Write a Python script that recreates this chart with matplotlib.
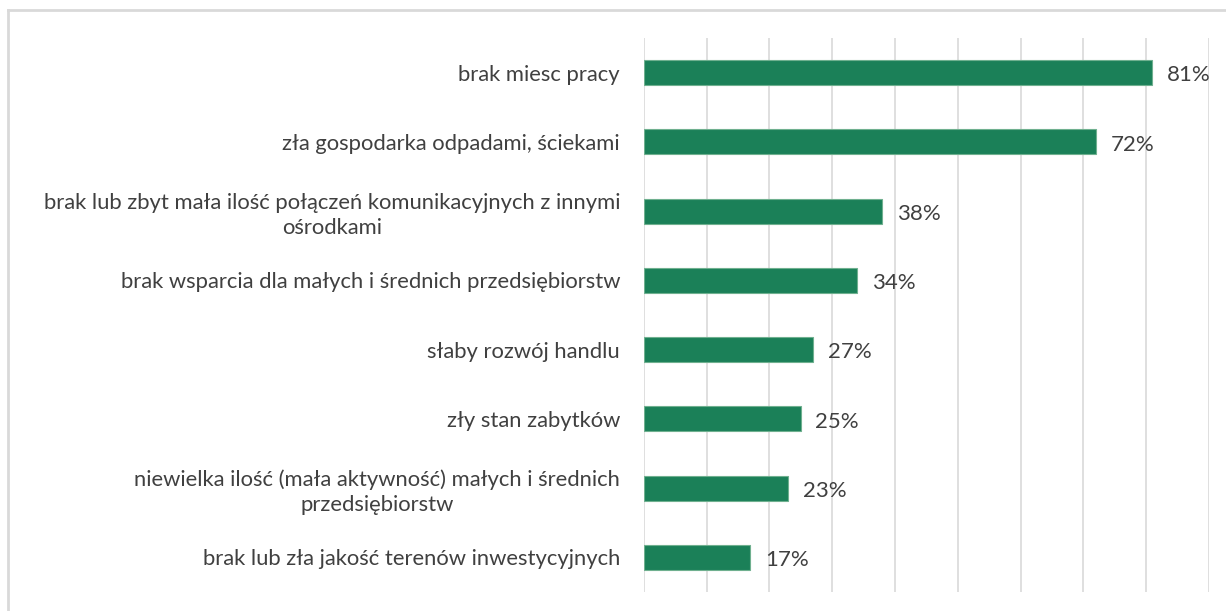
import matplotlib
matplotlib.use("Agg")
import matplotlib.pyplot as plt
from matplotlib.lines import Line2D

labels = [
    "brak miesc pracy",
    "zła gospodarka odpadami, ściekami",
    "brak lub zbyt mała ilość połączeń komunikacyjnych z innymi\nośrodkami",
    "brak wsparcia dla małych i średnich przedsiębiorstw",
    "słaby rozwój handlu",
    "zły stan zabytków",
    "niewielka ilość (mała aktywność) małych i średnich\nprzedsiębiorstw",
    "brak lub zła jakość terenów inwestycyjnych",
]
values = [81, 72, 38, 34, 27, 25, 23, 17]

plt.rcParams["font.family"] = ["Lato", "DejaVu Sans"]

fig = plt.figure(figsize=(12.26, 6.11), dpi=100)
ax = fig.add_axes([643.7 / 1226, 1 - 592 / 611, (1209 - 643.7) / 1226, 554 / 611])

pos = list(range(len(labels)))
ax.barh(pos, values, height=0.36, color="#1b8058", edgecolor="#6fb08f", linewidth=0.8, zorder=3)
for p, v in zip(pos, values):
    ax.text(v + 2.3, p + 0.04, f"{v}%", va="center", ha="left", fontsize=16, color="#404040")

ax.set_xlim(0, 90)
ax.set_ylim(len(labels) - 0.5, -0.5)
ax.set_xticks(range(0, 91, 10))
ax.xaxis.grid(True, color="#d9d9d9", linewidth=1.2, zorder=0)
ax.tick_params(axis="x", length=0, labelbottom=False)
ax.set_yticks(pos)
ax.set_yticklabels(labels, fontsize=15.8, color="#404040", multialignment="center", linespacing=1.3)
ax.tick_params(axis="y", length=0, pad=17)
for s in ax.spines.values():
    s.set_visible(False)

# chart frame (left and top edges visible)
fig.add_artist(Line2D([8 / 1226, 8 / 1226], [0, 1 - 10 / 611], transform=fig.transFigure, color="#d9d9d9", linewidth=2))
fig.add_artist(Line2D([8 / 1226, 1], [1 - 10 / 611, 1 - 10 / 611], transform=fig.transFigure, color="#d9d9d9", linewidth=2))

fig.savefig("out.png", dpi=100)
